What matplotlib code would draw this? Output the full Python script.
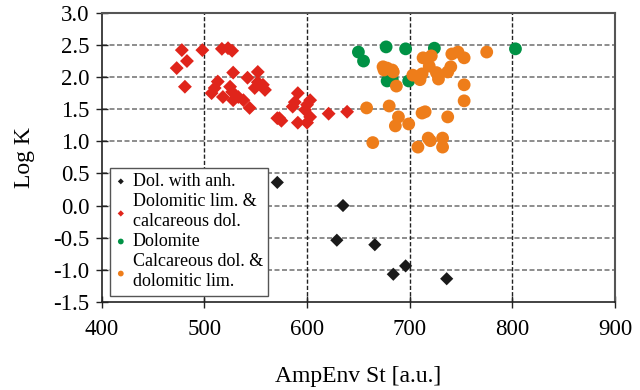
import matplotlib
matplotlib.use("Agg")
import matplotlib.pyplot as plt

plt.rcParams['font.family'] = ['Liberation Serif', 'DejaVu Serif']

# Dol. with anh.
anh_x = [571, 635, 629, 666, 684, 696, 736]
anh_y = [0.36, 0.00, -0.54, -0.61, -1.07, -0.94, -1.14]

# Dolomitic lim. & calcareous dol.
red_x = [478, 483, 473, 481, 498, 517, 523, 527, 528, 513, 510, 507, 518, 525,
         527, 528, 533, 538, 544, 542, 552, 549, 557, 559, 552, 591, 588, 586,
         573, 575, 571, 603, 600, 598, 603, 591, 600, 621, 639]
red_y = [2.42, 2.25, 2.14, 1.85, 2.42, 2.44, 2.45, 2.41, 2.07, 1.93, 1.83, 1.75,
         1.69, 1.85, 1.77, 1.64, 1.69, 1.64, 1.52, 1.99, 2.08, 1.83, 1.88, 1.80,
         1.92, 1.75, 1.61, 1.54, 1.36, 1.32, 1.36, 1.64, 1.57, 1.49, 1.38, 1.29,
         1.29, 1.43, 1.46]

# Dolomite
grn_x = [650, 655, 677, 696, 724, 803, 678, 683, 699]
grn_y = [2.39, 2.25, 2.47, 2.44, 2.45, 2.44, 1.94, 1.96, 1.94]

# Calcareous dol. & dolomitic lim.
org_x = [674, 678, 683, 675, 684, 687, 713, 721, 719, 703, 712, 710, 726, 728,
         737, 740, 741, 747, 753, 775, 753, 753, 658, 680, 689, 686, 699, 712,
         715, 737, 664, 708, 718, 720, 732, 732]
org_y = [2.16, 2.14, 2.11, 2.11, 2.08, 1.86, 2.30, 2.33, 2.17, 2.03, 2.05, 1.96,
         2.07, 1.97, 2.08, 2.16, 2.36, 2.39, 2.30, 2.39, 1.88, 1.63, 1.52, 1.55,
         1.38, 1.24, 1.27, 1.44, 1.46, 1.38, 0.98, 0.91, 1.05, 1.01, 1.05, 0.91]

x_ticks = [400, 500, 600, 700, 800, 900]
y_ticks = [-1.5, -1.0, -0.5, 0.0, 0.5, 1.0, 1.5, 2.0, 2.5, 3.0]

fig = plt.figure(figsize=(6.4, 3.9), dpi=100)
ax = fig.add_axes([0.159, 0.226, 0.802, 0.741])

ax.scatter(anh_x, anh_y, marker='D', s=45, color='#1a1a1a', edgecolors='none',
           label='Dol. with anh.', zorder=3)
ax.scatter(red_x, red_y, marker='D', s=50, color='#e0251b', edgecolors='none',
           label='Dolomitic lim. &\ncalcareous dol.', zorder=3)
ax.scatter(grn_x, grn_y, marker='o', s=85, color='#009245', edgecolors='none',
           label='Dolomite', zorder=3)
ax.scatter(org_x, org_y, marker='o', s=85, color='#ee7d1a', edgecolors='none',
           label='Calcareous dol. &\ndolomitic lim.', zorder=3)

ax.set_xlim(400, 900)
ax.set_ylim(-1.5, 3.0)
ax.set_xticks(x_ticks)
ax.set_yticks(y_ticks)
ax.set_xticklabels([str(v) for v in x_ticks])
ax.set_yticklabels(['%.1f' % v for v in y_ticks])
ax.tick_params(direction='inout', length=8, width=1, labelsize=16.5, color='#222222')
ax.tick_params(axis='x', pad=8)
ax.tick_params(axis='y', pad=5)

for v in y_ticks[1:-1]:
    ax.axhline(v, color='#7a7a7a', lw=1.2, ls=(0, (3, 1.5)), zorder=1)
for v in x_ticks[1:-1]:
    ax.axvline(v, color='#222222', lw=1.0, ls=(0, (3, 1.5)), zorder=1)

for s in ['left', 'bottom']:
    ax.spines[s].set_color('#222222')
    ax.spines[s].set_linewidth(1.2)
for s in ['top', 'right']:
    ax.spines[s].set_color('#555555')
    ax.spines[s].set_linewidth(1.5)

ax.set_xlabel('AmpEnv St [a.u.]', fontsize=17, labelpad=19)
ax.set_ylabel('Log K', fontsize=17, labelpad=13)

leg = ax.legend(loc='lower left', bbox_to_anchor=(0.016, 0.022), fontsize=13,
                markerscale=0.45, frameon=True, fancybox=False,
                edgecolor='#555555', framealpha=1, handlelength=0.6,
                handletextpad=0.35, labelspacing=0.18, borderpad=0.3,
                borderaxespad=0.0)
leg.get_frame().set_linewidth(1.0)

fig.savefig('out.png', dpi=100)
